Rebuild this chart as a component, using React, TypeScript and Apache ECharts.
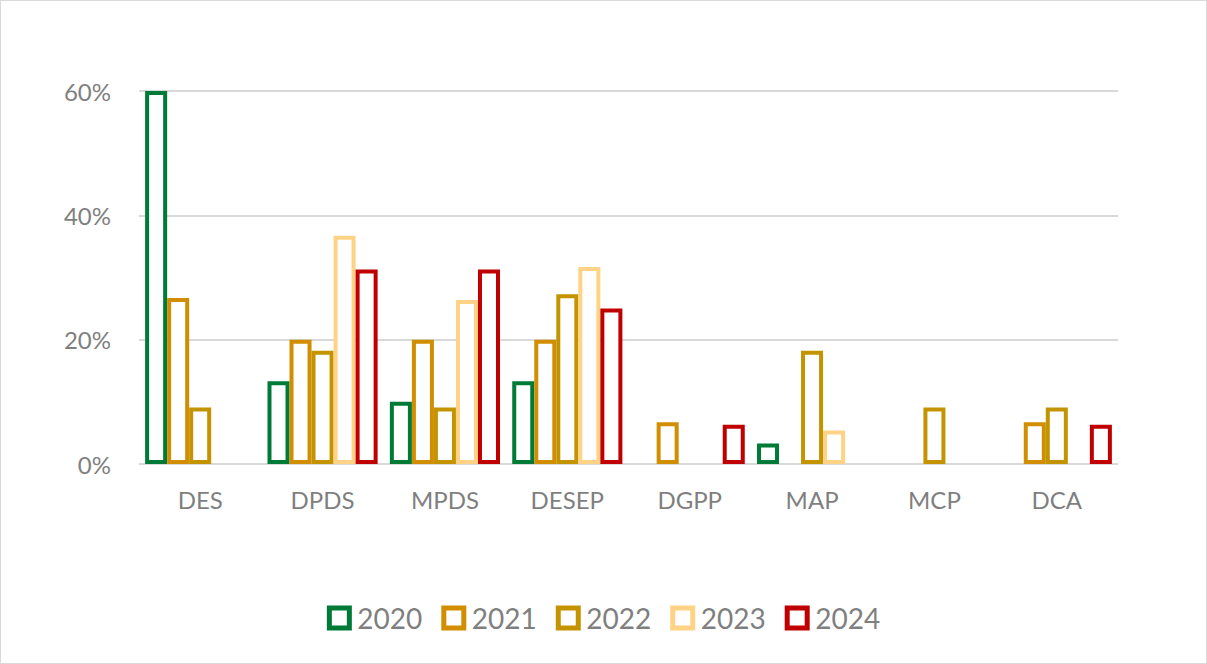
import React, { useEffect, useRef } from "react";
import * as echarts from "echarts";

const categories = ["DES", "DPDS", "MPDS", "DESEP", "DGPP", "MAP", "MCP", "DCA"];
const years = ["2020", "2021", "2022", "2023", "2024"];
const s2020: (number | string)[] = [60, 13.3, 10, 13.3, "-", 3.3, "-", "-"];
const s2021: (number | string)[] = [26.7, 20, 20, 20, 6.7, "-", "-", 6.7];
const s2022: (number | string)[] = [9.1, 18.2, 9.1, 27.3, "-", 18.2, 9.1, 9.1];
const s2023: (number | string)[] = ["-", 36.7, 26.4, 31.7, "-", 5.4, "-", "-"];
const s2024: (number | string)[] = ["-", 31.3, 31.3, 25, 6.3, "-", "-", 6.3];
const yTicks = [0, 20, 40, 60];

const seriesData = [s2020, s2021, s2022, s2023, s2024];
const colors = ["#007A37", "#D18E00", "#C39400", "#FFD385", "#C00000"];

const FONT = "Lato, sans-serif";

export default function App() {
  const ref = useRef<HTMLDivElement>(null);
  useEffect(() => {
    if (!ref.current) return;
    const chart = echarts.init(ref.current, undefined, { renderer: "svg" });
    chart.setOption({
      animation: false,
      backgroundColor: "#ffffff",
      grid: { left: 138, right: 88, top: 90, bottom: 199, containLabel: false },
      xAxis: {
        type: "category",
        data: categories,
        axisLine: { show: false },
        axisTick: { show: false },
        axisLabel: { color: "#7F7F7F", fontSize: 24, fontFamily: FONT, margin: 23 },
      },
      yAxis: {
        type: "value",
        min: yTicks[0],
        max: yTicks[yTicks.length - 1],
        interval: 20,
        axisLine: { show: false },
        axisTick: { show: false },
        axisLabel: { color: "#7F7F7F", fontSize: 24, fontFamily: FONT, margin: 28, formatter: "{value}%" },
        splitLine: { lineStyle: { color: "#D9D9D9", width: 2 } },
      },
      legend: {
        top: 598,
        left: "center",
        icon: "rect",
        itemWidth: 20,
        itemHeight: 20,
        itemGap: 19,
        itemStyle: { borderWidth: 5 },
        textStyle: { color: "#7F7F7F", fontSize: 28, fontFamily: FONT, padding: [0, 0, 0, 3] },
        data: years,
      },
      series: years.map((y, i) => ({
        name: y,
        type: "bar",
        data: seriesData[i],
        barGap: "0%",
        barCategoryGap: "10%",
        itemStyle: { color: "#ffffff", borderColor: colors[i], borderWidth: 4 },
        emphasis: { disabled: true },
      })),
    });
    return () => chart.dispose();
  }, []);
  return (
    <div
      ref={ref}
      style={{
        position: "fixed",
        left: 0,
        top: 0,
        width: 1207,
        height: 664,
        boxSizing: "border-box",
        border: "1px solid #D9D9D9",
      }}
    />
  );
}
